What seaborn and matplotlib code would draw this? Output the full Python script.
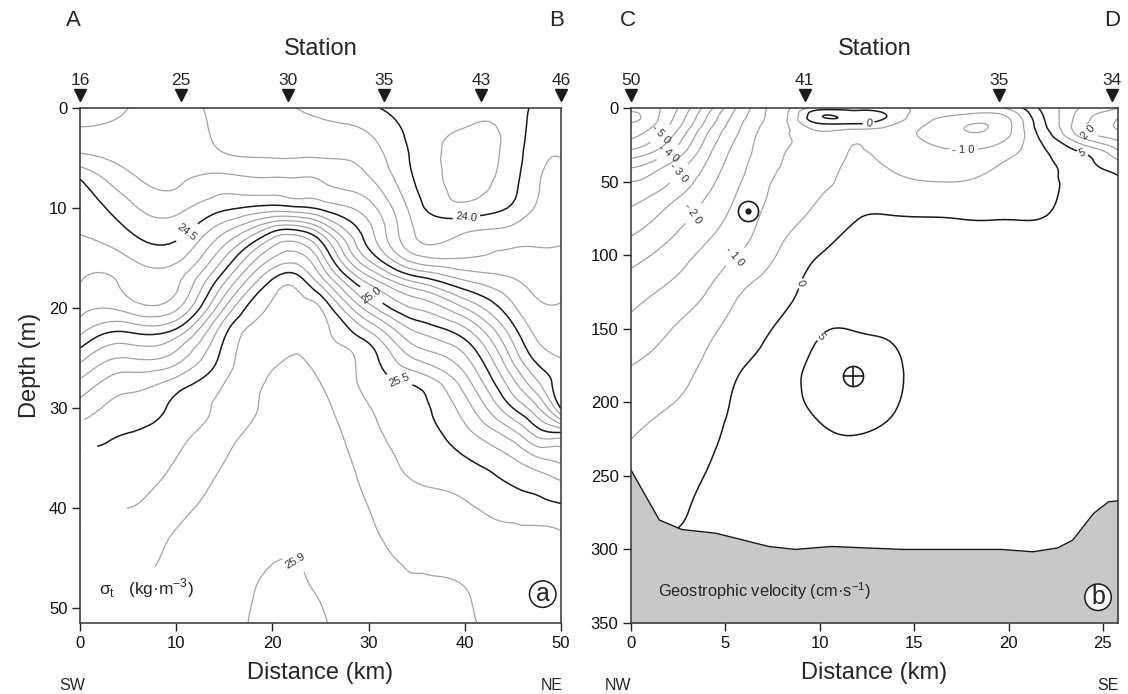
import numpy as np
import matplotlib
matplotlib.use('Agg')

import matplotlib.pyplot as plt
import matplotlib.tri as mtri
import seaborn as sns

sns.set_theme(style='ticks')
plt.rcParams['font.family'] = ['Liberation Sans', 'DejaVu Sans']
plt.rcParams['axes.linewidth'] = 1.1
plt.rcParams['contour.negative_linestyle'] = 'solid'

# ================= DATA: panel a (sigma-t, SW-NE section) =================

dist_a = [0, 5, 10, 15, 20, 22.5, 25, 30, 35, 40, 45, 47.5, 50]
depth_a = [0, 2.5, 5, 7.5, 10, 12.5, 15, 17.5, 20, 22.5, 25, 27.5, 30,
           32.5, 35, 37.5, 40, 42.5, 45, 47.5, 50, 52.5]

# one row per distance, values down the depth list
sigma_t = [
    [24.15, 24.22, 24.33, 24.52, 24.555, 24.597, 24.647, 24.70, 24.77, 24.883, 25.07,
     25.225, 25.343, 25.44, 25.53, 25.60, 25.67, 25.72, 25.76, 25.79, 25.80, 25.80],
    [24.20, 24.23, 24.27, 24.34, 24.43, 24.51, 24.605, 24.673, 24.76, 25.008, 25.20,
     25.36, 25.442, 25.50, 25.53, 25.565, 25.60, 25.63, 25.66, 25.69, 25.72, 25.74],
    [24.25, 24.26, 24.27, 24.29, 24.372, 24.469, 24.573, 24.68, 24.78, 25.05, 25.25,
     25.443, 25.525, 25.563, 25.60, 25.636, 25.67, 25.706, 25.73, 25.75, 25.77, 25.78],
    [24.15, 24.17, 24.22, 24.35, 24.48, 24.70, 24.90, 25.10, 25.30, 25.48, 25.54,
     25.60, 25.632, 25.664, 25.696, 25.72, 25.74, 25.76, 25.78, 25.80, 25.82, 25.84],
    [24.15, 24.17, 24.20, 24.33, 24.54, 25.02, 25.30, 25.53, 25.61, 25.65, 25.686,
     25.71, 25.72, 25.74, 25.76, 25.78, 25.81, 25.85, 25.89, 25.93, 25.95, 25.96],
    [24.10, 24.15, 24.20, 24.32, 24.52, 25.06, 25.35, 25.57, 25.63, 25.667, 25.705,
     25.73, 25.75, 25.77, 25.79, 25.81, 25.83, 25.86, 25.895, 25.92, 25.94, 25.95],
    [24.08, 24.13, 24.20, 24.31, 24.48, 24.89, 25.16, 25.375, 25.60, 25.633, 25.666,
     25.70, 25.73, 25.75, 25.77, 25.79, 25.81, 25.83, 25.86, 25.88, 25.905, 25.92],
    [24.02, 24.10, 24.16, 24.225, 24.34, 24.44, 24.575, 24.89, 25.15, 25.42, 25.55,
     25.575, 25.605, 25.63, 25.655, 25.675, 25.70, 25.72, 25.74, 25.76, 25.77, 25.78],
    [23.95, 23.96, 23.97, 23.99, 24.04, 24.09, 24.23, 24.61, 24.89, 25.107, 25.285,
     25.48, 25.53, 25.55, 25.573, 25.60, 25.63, 25.66, 25.69, 25.705, 25.72, 25.73],
    [23.93, 23.89, 23.87, 23.88, 23.93, 24.10, 24.20, 24.43, 24.70, 24.95, 25.12,
     25.25, 25.35, 25.43, 25.505, 25.57, 25.61, 25.63, 25.655, 25.695, 25.71, 25.72],
    [23.94, 23.94, 23.95, 23.97, 24.02, 24.14, 24.23, 24.32, 24.42, 24.55, 24.675,
     24.83, 25.00, 25.23, 25.40, 25.49, 25.57, 25.61, 25.63, 25.645, 25.66, 25.67],
    [24.03, 24.05, 24.07, 24.09, 24.11, 24.17, 24.22, 24.27, 24.32, 24.38, 24.47,
     24.62, 24.82, 25.06, 25.31, 25.46, 25.54, 25.62, 25.64, 25.655, 25.665, 25.67],
    [24.06, 24.08, 24.10, 24.13, 24.16, 24.185, 24.22, 24.265, 24.31, 24.355, 24.40,
     24.45, 24.49, 25.01, 25.27, 25.41, 25.52, 25.605, 25.63, 25.645, 25.655, 25.66],
]

# deepest sampled depth (lower-left corner has no data)
cover_x = [0, 10.6]
cover_depth = [30.3, 51.5]

stations_a = ['16', '25', '30', '35', '43', '46']
stations_a_km = [0, 10.5, 21.6, 31.6, 41.7, 50]

gray_a = [23.9, 24.1, 24.2, 24.3, 24.4, 24.6, 24.7, 24.8, 24.9,
          25.1, 25.2, 25.3, 25.4, 25.6, 25.7]
deep_a = [25.9]
black_a = [24.0, 24.5, 25.0, 25.5]

# ================= DATA: panel b (geostrophic velocity, NW-SE) =================

dist_b = [0, 2, 4, 6, 8, 10, 12, 14, 16, 18, 20, 22, 24, 25.8]
depth_b = [0, 5, 10, 15, 20, 30, 40, 50, 60, 75, 100, 125, 150, 175,
           200, 225, 250, 275, 300]

velocity = [
    [-57, -62, -60, -57.5, -55.5, -48.5, -40.5, -35, -32, -28, -22, -17, -13.5,
     -10, -7.4, -5, -3, -1.5, 0],
    [-53, -52, -50.8, -48.5, -46, -40.6, -33.9, -30.4, -27, -23.0, -18.1, -14.0,
     -10.3, -7.75, -5.3, -3.2, -1.8, -0.6, 0.5],
    [-38, -35.5, -33.8, -31.3, -29.6, -26.7, -24.2, -22.1, -20, -17.5, -13.6, -10,
     -6.4, -4.1, -2.6, -1.3, 0.2, 1.0, 1.5],
    [-22, -20.8, -19.6, -18.8, -17.9, -16.6, -15.5, -14.5, -13.6, -12.3, -9.1, -4.8,
     -2.4, -0.1, 1.4, 2.3, 2.8, 3.0, 3.0],
    [-12, -11.5, -11.2, -10.9, -10.6, -10.2, -9.9, -9.0, -8.2, -6.8, -4.2, -1.8,
     1.0, 3.0, 3.6, 3.2, 2.8, 2.6, 2.5],
    [-3, 4.5, 0.8, -4.5, -6.5, -7.5, -7.8, -6.6, -5.1, -3.6, 0.05, 2.5, 4.6, 6.0,
     5.8, 4.3, 3.3, 2.9, 2.8],
    [-2.5, 3.0, 1.0, -5.5, -6.0, -4.6, -3.3, -2.6, -2.0, -0.1, 1.8, 3.0, 4.8, 6.5,
     6.3, 4.8, 3.5, 3.0, 2.8],
    [-4, -2, -4.5, -7.5, -8.5, -7.5, -5.8, -4.0, -2.5, 0.3, 2.2, 3.2, 4.3, 5.6, 5.3,
     3.8, 3.0, 2.8, 2.7],
    [-6, -9, -10.5, -11.5, -11, -9, -6.8, -5.0, -3.5, 0.2, 1.5, 2.0, 2.3, 2.5, 2.5,
     2.5, 2.4, 2.3, 2.2],
    [-7, -11, -14.5, -15.3, -13.8, -9.3, -6.5, -4.8, -3.5, -0.2, 1.3, 1.8, 2.0, 2.1,
     2.1, 2.1, 2.0, 2.0, 2.0],
    [-4, -9, -11, -11, -10, -6.5, -4.0, -3.0, -2.2, -0.1, 1.0, 1.5, 1.7, 1.8, 1.8,
     1.8, 1.8, 1.8, 1.8],
    [7, 6, 5.3, 4.2, 2.5, -0.2, -1.2, -1.2, -0.8, 0.1, 1.0, 1.4, 1.6, 1.7, 1.7, 1.7,
     1.8, 1.8, 1.8],
    [16, 18, 19, 19.5, 16, 5.6, 3.5, 2.5, 2.0, 1.8, 1.5, 1.5, 1.5, 1.5, 1.5, 1.5,
     1.5, 1.5, 1.5],
    [20, 24, 26, 25, 22, 14, 7, 4.2, 3.5, 3.0, 2.5, 2.3, 2.2, 2.1, 2.0, 2.0, 2.0,
     2.0, 2.0],
]

bathy_x = [0, 1.5, 2.7, 4.5, 7.3, 8.7, 10.6, 12.5, 14.4, 17.3, 19.6, 21.3,
           22.6, 23.4, 24.5, 25.3, 25.8]
bathy_depth = [246, 280, 286.5, 289, 298, 300, 298, 299, 300, 300, 300, 301.6,
               299, 293.7, 275.6, 267.6, 267]

# flow symbols: out of page (dot) and into page (cross)
flow_out_x, flow_out_depth = [6.2], [70]
flow_in_x, flow_in_depth = [11.75], [182]

stations_b = ['50', '41', '35', '34']
stations_b_km = [0, 9.2, 19.5, 25.5]

gray_b = [-60, -55, -50, -45, -40, -35, -30, -25, -20, -15, -10, -5, 10, 15, 20, 25]
black_b = [0, 5]

GRAY = '#a3a3a3'
LAB = '#333333'


def refined(xs, ds, table, yscale):
    X, D = np.meshgrid(xs, ds)
    z = np.asarray(table, dtype=float).T.ravel()
    tri = mtri.Triangulation(X.ravel(), D.ravel() / yscale)
    tri_f, z_f = mtri.UniformTriRefiner(tri).refine_field(z, subdiv=3)
    tri_p = mtri.Triangulation(tri_f.x, tri_f.y * yscale, tri_f.triangles)
    return tri_p, z_f


def spaced(v):
    return ' '.join(f'{v:g}')


fig = plt.figure(figsize=(11.28, 6.94), dpi=100)

ax_a = fig.add_axes([80 / 1128, 1 - 623 / 694, 481 / 1128, 515 / 694])
ax_b = fig.add_axes([631 / 1128, 1 - 623 / 694, 487 / 1128, 515 / 694])

# ================= PANEL A =================

tri_a, z_a = refined(dist_a, depth_a, sigma_t, 1.0)

ax_a.tricontour(tri_a, z_a, levels=gray_a, colors=GRAY, linewidths=0.9)
cs_da = ax_a.tricontour(tri_a, z_a, levels=deep_a, colors=GRAY, linewidths=0.9)
cs_ba = ax_a.tricontour(tri_a, z_a, levels=black_a, colors='k', linewidths=1.1)

ax_a.clabel(cs_ba, fmt='%.1f', fontsize=8, inline=True, inline_spacing=3,
            colors=LAB,
            manual=[(40.2, 11.2), (11.4, 12.8), (30.5, 18.4), (33.5, 26.5)])
ax_a.clabel(cs_da, fmt='%.1f', fontsize=8, inline=True, inline_spacing=3,
            colors=LAB, manual=[(22.0, 46.0)])

ax_a.fill_between(cover_x, cover_depth, 52, color='white', zorder=2.2, lw=0)

ax_a.set_xlim(0, 50)
ax_a.set_ylim(51.5, 0)
ax_a.set_xticks(range(0, 51, 10))
ax_a.set_yticks(range(0, 51, 10))
ax_a.set_ylabel('Depth (m)', fontsize=17, labelpad=6)
ax_a.set_xlabel('Distance (km)', fontsize=17, labelpad=8)

ax_a.text(0.04, 0.055, r'σ$_\mathregular{t}$   (kg·m$^\mathregular{-3}$)',
          transform=ax_a.transAxes, fontsize=12.5, zorder=5)
ax_a.text(0.962, 0.056, 'a', transform=ax_a.transAxes, fontsize=18,
          ha='center', va='center', zorder=5,
          bbox=dict(boxstyle='circle,pad=0.05', fc='white', ec='k', lw=1.1))

# ================= PANEL B =================

tri_b, z_b = refined(dist_b, depth_b, velocity, 10.0)

cs_gb = ax_b.tricontour(tri_b, z_b, levels=gray_b, colors=GRAY, linewidths=0.9,
                        linestyles='solid')
cs_bb = ax_b.tricontour(tri_b, z_b, levels=black_b, colors='k', linewidths=1.1,
                        linestyles='solid')

ax_b.clabel(cs_gb, fmt=spaced, fontsize=8, inline=True, inline_spacing=3,
            colors=LAB,
            manual=[(1.6, 18), (2.0, 31), (2.6, 45), (3.5, 73), (5.4, 100),
                    (17.6, 28), (24.3, 15.6)])
ax_b.clabel(cs_bb, fmt=spaced, fontsize=8, inline=True, inline_spacing=3,
            colors=LAB,
            manual=[(9.2, 120), (12.6, 11), (10.35, 158), (23.9, 31)])

ax_b.fill_between(bathy_x, bathy_depth, 350, color='#c8c8c8', lw=0, zorder=3)
sns.lineplot(x=bathy_x, y=bathy_depth, color='k', lw=1.0, ax=ax_b, zorder=3.5,
             sort=False, estimator=None)

ax_b.plot(flow_out_x, flow_out_depth, 'o', ms=14.5, mfc='none', mec='k', mew=1.2, zorder=4)
ax_b.plot(flow_out_x, flow_out_depth, 'o', ms=3.5, color='k', zorder=4)
ax_b.plot(flow_in_x, flow_in_depth, 'o', ms=14.5, mfc='none', mec='k', mew=1.2, zorder=4)
ax_b.plot(flow_in_x, flow_in_depth, '+', ms=14.5, mec='k', mew=1.2, zorder=4)

ax_b.set_xlim(0, 25.8)
ax_b.set_ylim(350, 0)
ax_b.set_xticks(range(0, 26, 5))
ax_b.set_yticks(range(0, 351, 50))
ax_b.set_ylabel('')
ax_b.set_xlabel('Distance (km)', fontsize=17, labelpad=8)

ax_b.text(0.055, 0.05, r'Geostrophic velocity (cm·s$^\mathregular{-1}$)',
          transform=ax_b.transAxes, fontsize=11.8, zorder=5)
ax_b.text(0.959, 0.05, 'b', transform=ax_b.transAxes, fontsize=18,
          ha='center', va='center', zorder=5,
          bbox=dict(boxstyle='circle,pad=0.05', fc='white', ec='k', lw=1.1))

# ================= COMMON STYLE =================

for ax, names, kms in [(ax_a, stations_a, stations_a_km),
                       (ax_b, stations_b, stations_b_km)]:
    for s in ax.spines.values():
        s.set_color('#333333')
        s.set_visible(True)
        s.set_zorder(6)
    ax.tick_params(direction='out', length=6, width=1, labelsize=12,
                   colors='#222222', labelcolor='#111111', pad=3,
                   top=False, right=False)
    tr = ax.get_xaxis_transform()
    ax.plot(kms, [1.026] * len(kms), 'v', color='k', ms=8.5,
            transform=tr, clip_on=False)
    for name, k in zip(names, kms):
        ax.text(k, 1.045, name, transform=tr, ha='center', va='baseline',
                fontsize=12.5)
    ax.text(0.5, 1.103, 'Station', transform=ax.transAxes, ha='center',
            va='baseline', fontsize=17)

fig.text(73 / 1128, 1 - 20 / 694, 'A', fontsize=16, ha='center', va='center')
fig.text(557 / 1128, 1 - 20 / 694, 'B', fontsize=16, ha='center', va='center')
fig.text(628 / 1128, 1 - 20 / 694, 'C', fontsize=16, ha='center', va='center')
fig.text(1112 / 1128, 1 - 20 / 694, 'D', fontsize=16, ha='center', va='center')

fig.text(72 / 1128, 1 - 685 / 694, 'SW', fontsize=11.5, ha='center', va='center')
fig.text(552 / 1128, 1 - 685 / 694, 'NE', fontsize=11.5, ha='center', va='center')
fig.text(618 / 1128, 1 - 685 / 694, 'NW', fontsize=11.5, ha='center', va='center')
fig.text(1108 / 1128, 1 - 685 / 694, 'SE', fontsize=11.5, ha='center', va='center')

fig.savefig('out.png', dpi=100)
plt.close(fig)
